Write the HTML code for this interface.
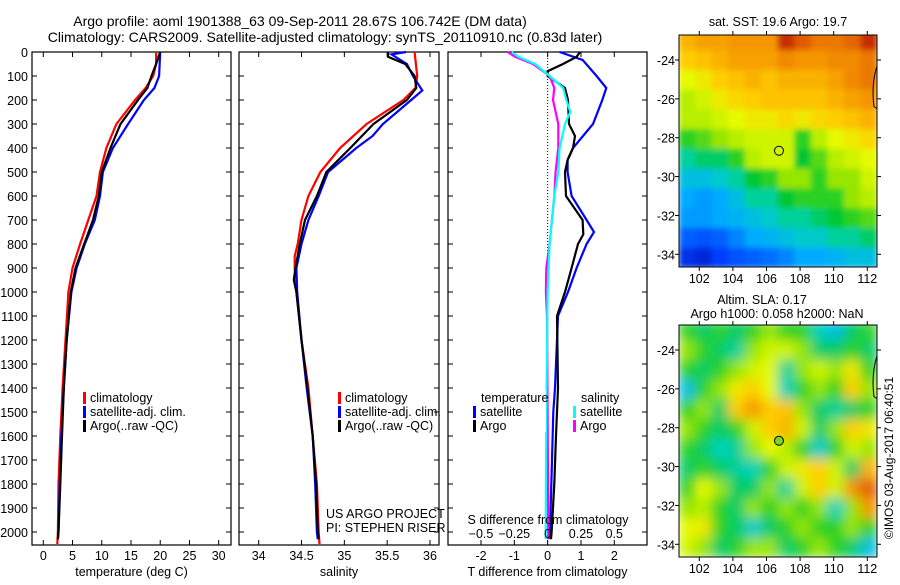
<!DOCTYPE html>
<html><head><meta charset="utf-8"><style>
body{margin:0;background:#fff;}
svg text{font-family:"Liberation Sans",sans-serif;fill:#000;}
</style></head><body>
<svg id="fig" width="900" height="580" viewBox="0 0 900 580" xmlns="http://www.w3.org/2000/svg">
<text x="300" y="26" font-size="14" text-anchor="middle">Argo profile: aoml 1901388_63 09-Sep-2011 28.67S 106.742E (DM data)</text>
<text x="325" y="42" font-size="14" text-anchor="middle">Climatology: CARS2009. Satellite-adjusted climatology: synTS_20110910.nc (0.83d later)</text>
<text x="778" y="26" font-size="12.5" text-anchor="middle">sat. SST: 19.6 Argo: 19.7</text>
<text x="762" y="304" font-size="12.5" text-anchor="middle">Altim. SLA: 0.17</text>
<text x="777" y="318" font-size="12.5" text-anchor="middle">Argo h1000: 0.058 h2000: NaN</text>
<text x="0" y="0" font-size="12" text-anchor="middle" transform="translate(893,458) rotate(-90)">©IMOS 03-Aug-2017 06:40:51</text>
<g id="plots"></g>
</svg>
<script>
// ---- Profile data (depth in m) ----
const tClimDepth = [0,50,100,150,200,300,400,500,600,700,800,900,1000,1200,1400,1600,1800,2000,2050];
const tClim      = [19.3,19.3,18.8,17.5,15.7,12.5,10.8,9.7,9.1,7.7,6.3,5.0,4.3,3.8,3.3,2.9,2.6,2.5,2.4];
const tSatDepth  = [0,100,150,200,300,400,500,600,700,800,900,1000,1200,1400,1600,1800,2000,2030];
const tSat       = [20.0,19.8,19.0,17.2,14.5,11.9,10.2,9.7,8.8,7.1,5.7,4.8,4.0,3.5,3.1,2.8,2.6,2.5];
const tArgoDepth = [0,50,100,150,200,300,400,500,600,700,800,900,1000,1200,1400,1600,1800,2000,2030];
const tArgo      = [20.0,19.3,18.5,17.8,16.2,13.2,11.5,10.0,9.5,8.5,7.0,5.5,4.7,4.0,3.5,3.2,2.9,2.6,2.5];
const sClimDepth = [0,100,150,200,300,400,500,600,700,800,850,900,1000,1200,1400,1600,1800,2000,2050];
const sClim      = [35.82,35.85,35.83,35.69,35.26,34.95,34.72,34.58,34.50,34.455,34.42,34.42,34.44,34.50,34.58,34.63,34.68,34.70,34.71];
const sSatDepth  = [0,10,50,100,160,200,300,350,400,500,600,700,800,900,1000,1200,1400,1600,1800,2000,2030];
const sSat       = [35.72,35.55,35.73,35.80,35.91,35.78,35.45,35.33,35.14,34.81,34.70,34.58,34.50,34.44,34.45,34.50,34.56,34.63,34.66,34.68,34.69];
const sArgoDepth = [0,20,50,100,150,200,300,400,500,600,700,800,900,950,1000,1200,1400,1600,1800,2000,2030];
const sArgo      = [35.51,35.51,35.71,35.82,35.84,35.73,35.34,35.07,34.79,34.68,34.54,34.48,34.43,34.41,34.44,34.50,34.57,34.63,34.67,34.69,34.70];
// ---- Differences from climatology ----
const dTSatDepth = [0,33,100,150,200,300,400,450,500,600,700,750,800,900,1000,1100,1400,1500,1700,2000,2030];
const dTSat      = [0.36,1.05,1.47,1.76,1.64,1.36,0.76,0.6,0.6,0.72,1.17,1.39,1.17,0.87,0.61,0.31,0.22,0.17,0.13,0.07,0.06];
const dTArgoDepth= [0,20,50,80,100,150,200,300,350,400,450,500,600,700,760,800,900,1000,1100,1400,1600,1800,2000,2030];
const dTArgo     = [0.97,0.87,0.46,0.0,0.0,0.52,0.61,0.64,0.82,0.76,0.6,0.52,0.55,1.05,1.07,0.91,0.72,0.52,0.28,0.31,0.25,0.2,0.12,0.1];
const dSSatDepth = [0,20,50,100,150,200,250,300,400,500,600,800,1000,1500,2000,2030];
const dSSat      = [-0.27,-0.22,-0.095,0.015,0.117,0.14,0.17,0.13,0.09,0.08,0.05,0.015,0.0,-0.01,-0.015,-0.015];
const dSArgoDepth= [0,20,50,100,150,200,300,400,500,600,800,900,1000,1100,1500,2000,2030];
const dSArgo     = [-0.30,-0.245,-0.11,0.015,0.05,0.04,0.08,0.08,0.06,0.05,0.015,-0.01,-0.013,-0.005,0.0,0.005,0.005];
// ---- Maps (colour index 0..1), rows lat -23..-34, cols lon ~101.5..112 ----
const sstGrid = [
[0.75,0.78,0.78,0.8,0.8,0.8,0.95,0.9,0.85,0.85,0.88,0.95],
[0.7,0.72,0.75,0.78,0.78,0.78,0.82,0.8,0.8,0.82,0.82,0.85],
[0.62,0.65,0.7,0.72,0.75,0.72,0.75,0.75,0.75,0.78,0.82,0.85],
[0.58,0.6,0.65,0.68,0.7,0.72,0.72,0.72,0.72,0.75,0.78,0.8],
[0.58,0.58,0.6,0.62,0.65,0.65,0.68,0.65,0.68,0.7,0.72,0.75],
[0.5,0.52,0.55,0.58,0.6,0.6,0.6,0.5,0.58,0.62,0.65,0.68],
[0.42,0.45,0.45,0.5,0.58,0.6,0.6,0.48,0.52,0.58,0.6,0.62],
[0.35,0.35,0.38,0.42,0.48,0.5,0.55,0.55,0.5,0.55,0.55,0.6],
[0.3,0.28,0.3,0.35,0.42,0.42,0.48,0.5,0.5,0.5,0.55,0.58],
[0.28,0.28,0.3,0.32,0.35,0.38,0.42,0.42,0.45,0.48,0.5,0.52],
[0.2,0.18,0.2,0.25,0.3,0.32,0.35,0.38,0.38,0.42,0.42,0.45],
[0.12,0.1,0.15,0.18,0.2,0.22,0.25,0.3,0.3,0.32,0.35,0.35]];
const slaGrid = [
[0.5,0.45,0.5,0.45,0.5,0.55,0.5,0.5,0.4,0.35,0.45,0.5],
[0.55,0.5,0.45,0.42,0.55,0.6,0.6,0.55,0.45,0.45,0.5,0.45],
[0.5,0.45,0.5,0.55,0.6,0.62,0.42,0.55,0.6,0.55,0.65,0.5],
[0.35,0.5,0.55,0.65,0.7,0.62,0.4,0.5,0.55,0.5,0.7,0.55],
[0.5,0.55,0.45,0.7,0.8,0.7,0.72,0.55,0.45,0.42,0.45,0.5],
[0.55,0.5,0.45,0.5,0.6,0.7,0.75,0.6,0.45,0.55,0.7,0.65],
[0.5,0.45,0.4,0.42,0.55,0.62,0.58,0.5,0.38,0.5,0.6,0.55],
[0.45,0.5,0.45,0.42,0.4,0.5,0.6,0.65,0.7,0.6,0.45,0.75],
[0.5,0.62,0.55,0.45,0.45,0.55,0.42,0.6,0.7,0.6,0.8,0.9],
[0.55,0.58,0.5,0.45,0.55,0.5,0.55,0.5,0.55,0.4,0.55,0.8],
[0.62,0.65,0.5,0.45,0.38,0.45,0.5,0.55,0.5,0.5,0.55,0.5],
[0.6,0.55,0.45,0.5,0.55,0.55,0.45,0.5,0.55,0.5,0.45,0.35]];
const depthTicks = [0,100,200,300,400,500,600,700,800,900,1000,1100,1200,1300,1400,1500,1600,1700,1800,1900,2000];
const tempTicks = [0,5,10,15,20,25,30];
const salTicks = [34,34.5,35,35.5,36];
const dTTicks = [-2,-1,0,1,2];
const dSTicks = [-0.5,-0.25,0,0.25,0.5];
const lonTicks = [102,104,106,108,110,112];
const latTicks = [-24,-26,-28,-30,-32,-34];
const argoLon = 106.742, argoLat = -28.67;

const NS='http://www.w3.org/2000/svg';
const root=document.getElementById('plots');
function el(tag,attrs,parent){const e=document.createElementNS(NS,tag);for(const k in attrs)e.setAttribute(k,attrs[k]);(parent||root).appendChild(e);return e;}
function txt(s,x,y,size,anchor,parent){const t=el('text',{x:x,y:y,'font-size':size,'text-anchor':anchor||'middle'},parent);t.textContent=s;return t;}

const TOP=52, BOT=545;
const yD=d=>TOP+0.24*d;
function lin(d0,d1,r0,r1){return v=>r0+(v-d0)*(r1-r0)/(d1-d0);}

function panel(name,x0,x1,xs,ticks,fmt,label,ytickLabels){
  const g=el('g',{});
  
  
  el('rect',{x:x0,y:TOP,width:x1-x0,height:BOT-TOP,fill:'none',stroke:'#000','stroke-width':1.2},g);
  depthTicks.forEach(d=>{const y=yD(d);
    el('line',{x1:x0,x2:x0+5,y1:y,y2:y,stroke:'#000'},g);
    el('line',{x1:x1-5,x2:x1,y1:y,y2:y,stroke:'#000'},g);
    if(ytickLabels){const t=txt(String(d),x0-4,y+5,12.5,'end',g);
      
      }
  });
  if(ticks) ticks.forEach(v=>{const x=xs(v);
    el('line',{x1:x,x2:x,y1:BOT,y2:BOT-5,stroke:'#000'},g);
    el('line',{x1:x,x2:x,y1:TOP,y2:TOP+5,stroke:'#000'},g);
    const t=txt(fmt(v),x,BOT+15,12.5,'middle',g);
    
    
  });
  const l=txt(label,(x0+x1)/2,BOT+31,12.5,'middle',g);
  
  
  return g;
}
function line(g,xs,vals,depths,color,name,w){
  const pts=vals.map((v,i)=>xs(v).toFixed(1)+','+yD(depths[i]).toFixed(1)).join(' ');
  const p=el('polyline',{points:pts,fill:'none',stroke:color,'stroke-width':w||2.2},g);
  
  
}
function legend(g,x,y,items){items.forEach((it,i)=>{
  const r=el('rect',{x:x,y:y+i*14-10,width:3,height:12,fill:it[1]},g);
  
  
  const t=txt(it[0],x+7,y+i*14,12.5,'start',g);
  
  
});}

// Panel 1 temperature
const xT=lin(0,30,43.3,218.7);
const g1=panel('temperature-panel',32,231,xT,tempTicks,String,'temperature (deg C)',true);
line(g1,xT,tClim,tClimDepth,'#f00','temp-climatology-line');
line(g1,xT,tSat,tSatDepth,'#00f','temp-satellite-line');
line(g1,xT,tArgo,tArgoDepth,'#000','temp-argo-line');
legend(g1,83,402,[['climatology','#f00'],['satellite-adj. clim.','#00f'],['Argo(..raw -QC)','#000']]);

// Panel 2 salinity
const xS=lin(34,36,258.7,430);
const g2=panel('salinity-panel',239,439,xS,salTicks,String,'salinity',false);
line(g2,xS,sClim,sClimDepth,'#f00','sal-climatology-line');
line(g2,xS,sSat,sSatDepth,'#00f','sal-satellite-line');
line(g2,xS,sArgo,sArgoDepth,'#000','sal-argo-line');
legend(g2,338,402,[['climatology','#f00'],['satellite-adj. clim.','#00f'],['Argo(..raw -QC)','#000']]);
let t=txt('US ARGO PROJECT',326,518,12.5,'start',g2);


t=txt('PI: STEPHEN RISER',326,532,12.5,'start',g2);



// Panel 3 differences
const xdT=lin(-2,2,481,614.3);
const xdS=lin(-0.5,0.5,481,614.3);
const g3=panel('difference-panel',448,647,xdT,dTTicks,String,'T difference from climatology',false);
el('line',{x1:xdT(0),x2:xdT(0),y1:TOP,y2:BOT,stroke:'#000','stroke-dasharray':'1,2'},g3);
line(g3,xdT,dTSat,dTSatDepth,'#00f','dT-satellite-line');
line(g3,xdT,dTArgo,dTArgoDepth,'#000','dT-argo-line');
line(g3,xdS,dSArgo,dSArgoDepth,'#f0f','dS-argo-line');
line(g3,xdS,dSSat,dSSatDepth,'#0ff','dS-satellite-line');
el('rect',{x:462,y:390,width:84,height:42,fill:'#fff'},g3);
el('rect',{x:564,y:390,width:70,height:42,fill:'#fff'},g3);
t=txt('temperature',481,402,12.5,'start',g3);


t=txt('salinity',581,402,12.5,'start',g3);


legend(g3,473,416,[['satellite','#00f'],['Argo','#000']]);
legend(g3,573,416,[['satellite','#0ff'],['Argo','#f0f']]);
t=txt('S difference from climatology',548,524,12.5,'middle',g3);


dSTicks.forEach(v=>{const tt=txt(String(v).replace('-','−'),xdS(v),538,12.5,'middle',g3);
  
  });

// Maps: custom jet-like colormap
const cmapStops=[[0,[0,0,140]],[0.15,[0,60,255]],[0.3,[0,170,255]],[0.4,[0,210,190]],[0.48,[0,200,50]],[0.55,[150,230,0]],[0.62,[230,250,0]],[0.7,[255,205,0]],[0.8,[245,150,0]],[0.9,[225,90,0]],[1,[170,0,0]]];
function cmap(v){v=Math.max(0,Math.min(1,v));
  for(let i=1;i<cmapStops.length;i++){const a=cmapStops[i-1],b=cmapStops[i];
    if(v<=b[0]){const f=(v-a[0])/(b[0]-a[0]);
      const c=a[1].map((x,k)=>Math.round(x+(b[1][k]-x)*f));
      return `rgb(${c[0]},${c[1]},${c[2]})`;}}
  return 'rgb(170,0,0)';}
el('defs',{}).innerHTML='<filter id="bl1" x="0" y="0" width="1" height="1"><feGaussianBlur stdDeviation="3"/></filter><filter id="bl2" x="0" y="0" width="1" height="1"><feGaussianBlur stdDeviation="6"/></filter><clipPath id="c1"><rect x="679" y="35" width="198" height="232"/></clipPath><clipPath id="c2"><rect x="679" y="325" width="198" height="232"/></clipPath>';
function map(name,grid,y0,clip,fill,filt){
  const g=el('g',{});
  
  
  const x0=679,x1=877,y1=y0+232;
  const lonX=lin(102,112,699.3,867.3);
  const latY=lin(-24,-34,y0+25,y0+219.3);
  const cg=el('g',{'clip-path':'url(#'+clip+')'},g);
  const hg=el('g',{filter:'url(#'+filt+')'},cg);
  const lons0=100.8, dl=(112.6-100.8)/12, la0=-22.5, dla=(34.7-22.5)/12;
  grid.forEach((row,i)=>row.forEach((v,j)=>{
    const xa=lonX(lons0+j*dl), xb=lonX(lons0+(j+1)*dl);
    const ya=latY(la0-i*dla), yb=latY(la0-(i+1)*dla);
    const r=el('rect',{x:xa-0.5,y:ya-0.5,width:xb-xa+1,height:yb-ya+1,fill:cmap(v)},hg);
    
    
  }));
  el('path',{d:`M${x1},${latY(-24.3)} Q${x1-6},${latY(-25.3)} ${x1-3},${latY(-26.4)} L${x1},${latY(-26.5)}`,fill:'none',stroke:'#000','stroke-width':1},cg);
  el('rect',{x:x0,y:y0,width:x1-x0,height:y1-y0,fill:'none',stroke:'#000','stroke-width':1},g);
  lonTicks.forEach(v=>{const x=lonX(v);
    el('line',{x1:x,x2:x,y1:y0,y2:y0-4,stroke:'#000'},g);
    el('line',{x1:x,x2:x,y1:y1,y2:y1+4,stroke:'#000'},g);
    const tt=txt(String(v),x,y1+16,12.5,'middle',g);
    
    });
  latTicks.forEach(v=>{const y=latY(v);
    el('line',{x1:x0,x2:x0-4,y1:y,y2:y,stroke:'#000'},g);
    el('line',{x1:x1,x2:x1+4,y1:y,y2:y,stroke:'#000'},g);
    const tt=txt(String(v),x0-4,y+5,12.5,'end',g);
    
    });
  const c=el('circle',{cx:lonX(argoLon),cy:latY(argoLat),r:4.5,fill:fill,stroke:'#000','stroke-width':1},g);
  
  
}
map('sst-map',sstGrid,35,'c1','none','bl1');
map('sla-map',slaGrid,325,'c2','#7ed321','bl2');
</script>
</body></html>
